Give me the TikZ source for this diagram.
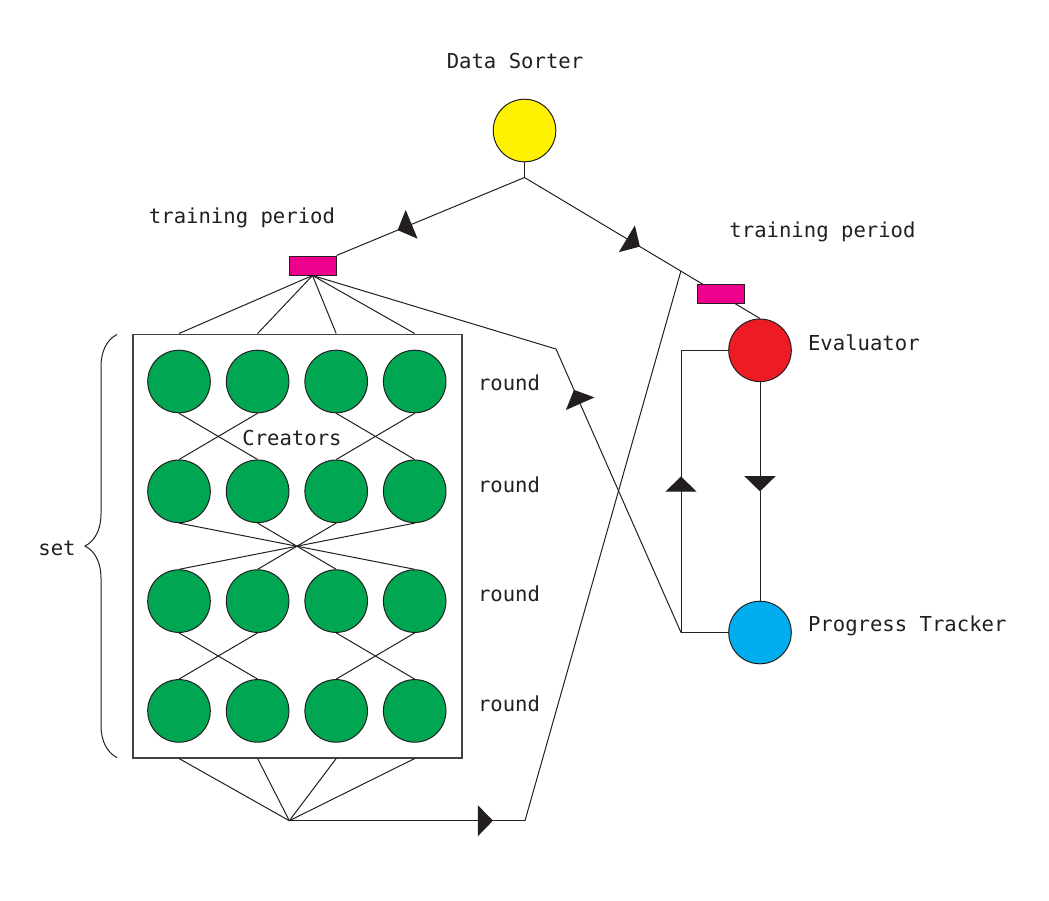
\documentclass[tikz,border=0pt]{standalone}
\usepackage{fontspec}
\setmainfont{DejaVu Sans Mono}
\usetikzlibrary{arrows.meta,decorations.markings,decorations.pathreplacing,calc}
\definecolor{ink}{HTML}{231F20}
\definecolor{sorterYellow}{HTML}{FFF200}
\definecolor{creatorGreen}{HTML}{00A651}
\definecolor{evalRed}{HTML}{ED1C24}
\definecolor{trackerBlue}{HTML}{00AEEF}
\definecolor{periodPink}{HTML}{EC008C}

\begin{document}
\begin{tikzpicture}[x=0.5pt,y=-0.5pt,
	font=\fontsize{10.3}{12}\selectfont,text=ink,
	line/.style={draw=ink,line width=0.5pt},
	ball/.style={circle,draw=ink,line width=0.5pt,minimum size=31.3pt,inner sep=0pt},
	period/.style={rectangle,draw=ink,fill=periodPink,line width=0.5pt,minimum width=23.5pt,minimum height=9.5pt,inner sep=0pt},
	tri/.tip={Triangle[width=15.5pt,length=7.6pt]},
	flow/.style={postaction={decorate,decoration={markings,mark=at position #1 with {\arrow{tri}}}}}]
	\useasboundingbox (0,0) rectangle (1049,900);

	% upper part
	\node[ball,fill=sorterYellow] (sorter) at (524.5,130.5) {};
	\node (sorterlabel) at (515,61) {Data Sorter};
	\coordinate (split) at (524.5,177.5);
	\node[period] (period1) at (312.5,265.5) {};
	\node (period1label) at (242,218) {training period};
	\node[ball,fill=evalRed] (evaluator) at (760,350.3) {};
	\node[anchor=west] (evallabel) at (801,343) {Evaluator};
	\node[ball,fill=trackerBlue] (tracker) at (760,632.5) {};
	\node[anchor=west] (trackerlabel) at (801,626) {Progress Tracker};
	\node (period2label) at (822.5,232) {training period};

	% creators
	\node[rectangle,draw=ink!85,line width=0.8pt,minimum width=164.6pt,minimum height=211.7pt,inner sep=0pt] (pool) at (297.3,546) {};
	\node[ball,fill=creatorGreen] (c11) at (179,381.5) {};
	\node[ball,fill=creatorGreen] (c12) at (257.6,381.5) {};
	\node[ball,fill=creatorGreen] (c13) at (336.2,381.5) {};
	\node[ball,fill=creatorGreen] (c14) at (414.7,381.5) {};
	\node[ball,fill=creatorGreen] (c21) at (179,491.3) {};
	\node[ball,fill=creatorGreen] (c22) at (257.6,491.3) {};
	\node[ball,fill=creatorGreen] (c23) at (336.2,491.3) {};
	\node[ball,fill=creatorGreen] (c24) at (414.7,491.3) {};
	\node[ball,fill=creatorGreen] (c31) at (179,601.1) {};
	\node[ball,fill=creatorGreen] (c32) at (257.6,601.1) {};
	\node[ball,fill=creatorGreen] (c33) at (336.2,601.1) {};
	\node[ball,fill=creatorGreen] (c34) at (414.7,601.1) {};
	\node[ball,fill=creatorGreen] (c41) at (179,710.9) {};
	\node[ball,fill=creatorGreen] (c42) at (257.6,710.9) {};
	\node[ball,fill=creatorGreen] (c43) at (336.2,710.9) {};
	\node[ball,fill=creatorGreen] (c44) at (414.7,710.9) {};
	\node (creatorslabel) at (292,438) {Creators};
	\node (round1) at (509,383) {round};
	\node (round2) at (509,485) {round};
	\node (round3) at (509,594) {round};
	\node (round4) at (509,704) {round};
	\node (setlabel) at (57,548) {set};
	\draw[line,decorate,decoration={brace,amplitude=16pt}] (117,757.5) -- (117,334.5);

	% connectors
	\draw[line] (sorter) -- (split);
	\draw[line,flow=0.675] (split) -- (period1.north east);
	\draw[line,flow=0.49] (split) -- (evaluator.north);
	\draw[line] (period1.south) -- (c11 |- pool.north);
	\draw[line] (period1.south) -- (c12 |- pool.north);
	\draw[line] (period1.south) -- (c13 |- pool.north);
	\draw[line] (period1.south) -- (c14 |- pool.north);
	\draw[line] (c11.south) -- (c22.north);
	\draw[line] (c12.south) -- (c21.north);
	\draw[line] (c13.south) -- (c24.north);
	\draw[line] (c14.south) -- (c23.north);
	\draw[line] (c21.south) -- (c34.north);
	\draw[line] (c22.south) -- (c33.north);
	\draw[line] (c23.south) -- (c32.north);
	\draw[line] (c24.south) -- (c31.north);
	\draw[line] (c31.south) -- (c42.north);
	\draw[line] (c32.south) -- (c41.north);
	\draw[line] (c33.south) -- (c44.north);
	\draw[line] (c34.south) -- (c43.north);
	\coordinate (gather) at (289.3,820.7);
	\coordinate (turn) at (525,820.7);
	\coordinate (merge) at ($(split)!0.664!(evaluator.north)$);
	\draw[line] (c41 |- pool.south) -- (gather);
	\draw[line] (c42 |- pool.south) -- (gather);
	\draw[line] (c43 |- pool.south) -- (gather);
	\draw[line] (c44 |- pool.south) -- (gather);
	\draw[line,flow=0.864] (gather) -- (turn);
	\draw[line] (turn) -- (merge);
	\coordinate (looptop) at (681,350.3);
	\coordinate (loopfoot) at (681,632.5);
	\coordinate (bend) at (556,349);
	\draw[line] (tracker.west) -- (loopfoot);
	\draw[line,flow=0.553] (loopfoot) -- (looptop);
	\draw[line] (looptop) -- (evaluator.west);
	\draw[line,flow=0.5] (evaluator.south) -- (tracker.north);
	\draw[line,flow=0.856] (loopfoot) -- (bend);
	\draw[line] (bend) -- (period1.south);
	\node[period] (period2) at (720.5,293.5) {};
\end{tikzpicture}
\end{document}
